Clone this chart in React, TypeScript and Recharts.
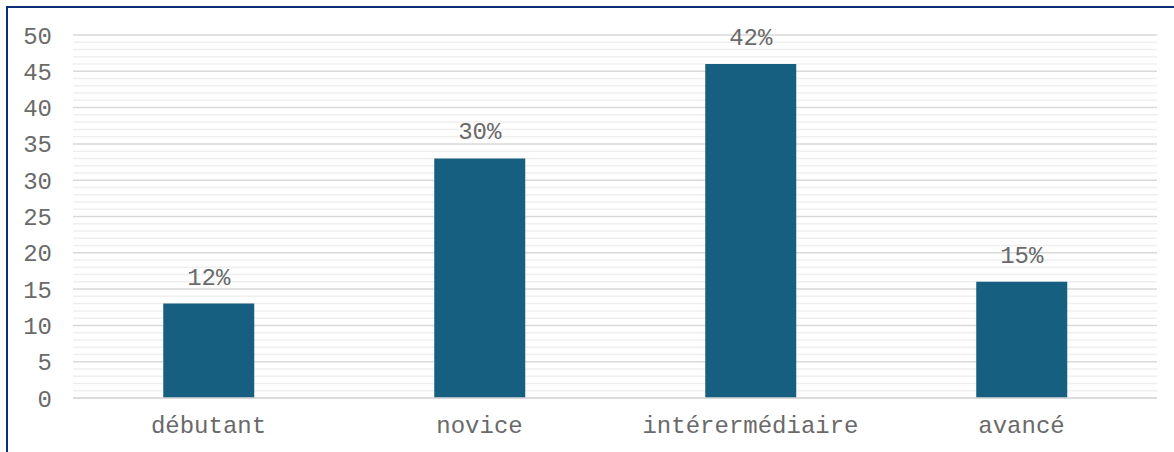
import React from "react";
import { BarChart, Bar, XAxis, YAxis, CartesianGrid, LabelList } from "recharts";

const categories = ["débutant", "novice", "intérermédiaire", "avancé"];
const values = [13, 33, 46, 16];
const percentLabels = ["12%", "30%", "42%", "15%"];
const yTicks = [0, 5, 10, 15, 20, 25, 30, 35, 40, 45, 50];
const minorTicks = [
  1, 2, 3, 4, 6, 7, 8, 9, 11, 12, 13, 14, 16, 17, 18, 19, 21, 22, 23, 24,
  26, 27, 28, 29, 31, 32, 33, 34, 36, 37, 38, 39, 41, 42, 43, 44, 46, 47, 48, 49,
];

const data = categories.map((c, i) => ({ name: c, value: values[i], label: percentLabels[i] }));

const FONT = "'Liberation Mono', 'Courier New', monospace";
const TEXT = "#6a6a6a";

export default function App() {
  return (
    <div style={{ position: "absolute", left: 0, top: 0, width: 1174, height: 452, background: "#fff" }}>
      <div
        style={{
          position: "absolute",
          left: 6,
          top: 6,
          right: 0,
          bottom: 0,
          borderTop: "2px solid #0c2f78",
          borderLeft: "2px solid #0c2f78",
        }}
      />
      <div style={{ position: "absolute", left: 1, top: 0 }}>
        <BarChart
          width={1174}
          height={452}
          data={data}
          margin={{ top: 35, right: 18, bottom: 14, left: 12 }}
          barCategoryGap="33.3%"
        >
          <CartesianGrid
            vertical={false}
            horizontalValues={minorTicks}
            stroke="#efefef"
            strokeWidth={1.5}
          />
          <CartesianGrid vertical={false} stroke="#d9d9d9" strokeWidth={1.5} />
          <XAxis
            dataKey="name"
            axisLine={{ stroke: "#d9d9d9", strokeWidth: 1.5 }}
            tickLine={false}
            tickMargin={12}
            height={40}
            tick={{ fill: TEXT, fontSize: 24, fontFamily: FONT, fontWeight: 300 }}
          />
          <YAxis
            domain={[0, 50]}
            ticks={yTicks}
            axisLine={false}
            tickLine={false}
            width={60}
            tickMargin={15}
            interval={0}
            tick={{ fill: TEXT, fontSize: 24, fontFamily: FONT, fontWeight: 300 }}
          />
          <Bar dataKey="value" fill="#175f80" isAnimationActive={false}>
            <LabelList
              dataKey="label"
              position="top"
              offset={19}
              fill={TEXT}
              fontSize={24}
              fontFamily={FONT}
              fontWeight={300}
            />
          </Bar>
        </BarChart>
      </div>
    </div>
  );
}
